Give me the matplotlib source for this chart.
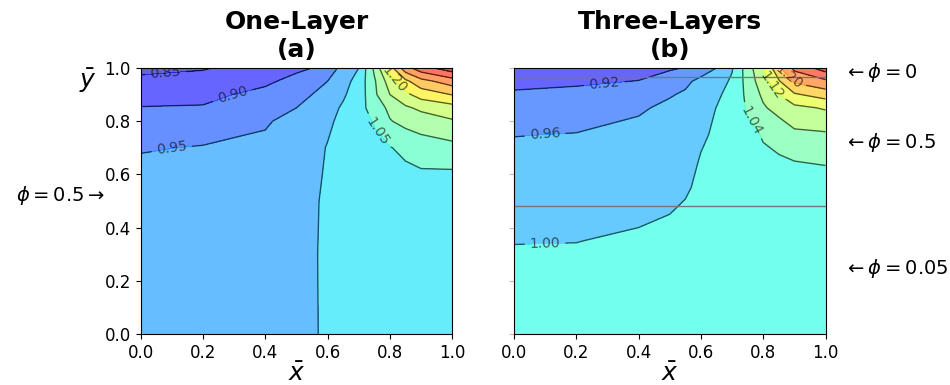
import numpy as np
import matplotlib
matplotlib.use('Agg')
import matplotlib.pyplot as plt

# grid (panel a: one layer)
x_a = [0.0, 0.2, 0.4, 0.5, 0.55, 0.6, 0.65, 0.7, 0.75, 0.8, 0.85, 0.9, 1.0]
y_a = [0.0, 0.3, 0.5, 0.6, 0.7, 0.8, 0.85, 0.9, 0.95, 1.0]
z_a = [
    [0.975, 0.975, 0.980, 0.988, 0.996, 1.006, 1.010, 1.013, 1.015, 1.017, 1.019, 1.021, 1.023],
    [0.973, 0.974, 0.979, 0.987, 0.996, 1.007, 1.012, 1.015, 1.018, 1.020, 1.022, 1.024, 1.026],
    [0.970, 0.971, 0.976, 0.985, 0.995, 1.006, 1.012, 1.016, 1.019, 1.022, 1.025, 1.027, 1.030],
    [0.965, 0.965, 0.970, 0.980, 0.992, 1.004, 1.012, 1.020, 1.028, 1.034, 1.040, 1.043, 1.042],
    [0.946, 0.953, 0.960, 0.975, 0.988, 1.002, 1.020, 1.030, 1.040, 1.048, 1.060, 1.075, 1.085],
    [0.917, 0.921, 0.945, 0.966, 0.980, 0.993, 1.010, 1.035, 1.053, 1.097, 1.115, 1.125, 1.145],
    [0.902, 0.904, 0.925, 0.950, 0.969, 0.986, 1.005, 1.033, 1.070, 1.112, 1.142, 1.160, 1.180],
    [0.881, 0.886, 0.915, 0.932, 0.950, 0.973, 0.995, 1.020, 1.090, 1.150, 1.188, 1.222, 1.252],
    [0.859, 0.864, 0.890, 0.917, 0.933, 0.950, 0.980, 1.020, 1.093, 1.175, 1.238, 1.283, 1.325],
    [0.840, 0.847, 0.867, 0.889, 0.900, 0.929, 0.962, 1.000, 1.110, 1.230, 1.330, 1.380, 1.430],
]
levels_a = [0.80, 0.85, 0.90, 0.95, 1.00, 1.05, 1.10, 1.15, 1.20, 1.25, 1.30, 1.35, 1.40, 1.45]
labels_at_a = [(0.08, 0.985), (0.30, 0.88), (0.10, 0.70), (0.76, 0.76), (0.81, 0.95)]

# panel b: three layers
x_b = [0.0, 0.2, 0.4, 0.5, 0.55, 0.6, 0.65, 0.7, 0.75, 0.8, 0.85, 0.9, 1.0]
y_b = [0.0, 0.2, 0.35, 0.45, 0.55, 0.65, 0.75, 0.85, 0.9, 0.95, 1.0]
z_b = [
    [1.020, 1.020, 1.022, 1.024, 1.025, 1.026, 1.027, 1.028, 1.030, 1.031, 1.032, 1.033, 1.034],
    [1.010, 1.010, 1.012, 1.015, 1.017, 1.019, 1.020, 1.022, 1.025, 1.027, 1.029, 1.031, 1.033],
    [0.999, 0.9995, 1.004, 1.007, 1.010, 1.013, 1.016, 1.018, 1.022, 1.026, 1.029, 1.031, 1.033],
    [0.990, 0.990, 0.996, 1.000, 1.004, 1.009, 1.013, 1.016, 1.021, 1.026, 1.030, 1.033, 1.034],
    [0.980, 0.982, 0.990, 0.993, 0.997, 1.005, 1.010, 1.014, 1.021, 1.028, 1.033, 1.036, 1.035],
    [0.970, 0.972, 0.982, 0.987, 0.990, 1.002, 1.007, 1.013, 1.023, 1.033, 1.036, 1.040, 1.041],
    [0.959, 0.961, 0.971, 0.979, 0.983, 0.996, 1.004, 1.013, 1.030, 1.043, 1.052, 1.072, 1.075],
    [0.940, 0.945, 0.955, 0.968, 0.975, 0.988, 1.0005, 1.012, 1.045, 1.075, 1.095, 1.110, 1.124],
    [0.925, 0.930, 0.938, 0.957, 0.965, 0.982, 0.995, 1.010, 1.050, 1.088, 1.120, 1.155, 1.178],
    [0.910, 0.914, 0.921, 0.940, 0.952, 0.970, 0.985, 1.005, 1.055, 1.105, 1.156, 1.207, 1.232],
    [0.895, 0.900, 0.905, 0.915, 0.922, 0.940, 0.960, 0.997, 1.060, 1.120, 1.190, 1.250, 1.300],
]
levels_b = [0.84, 0.88, 0.92, 0.96, 1.00, 1.04, 1.08, 1.12, 1.16, 1.20, 1.24, 1.28, 1.32]
labels_at_b = [(0.29, 0.94), (0.10, 0.75), (0.10, 0.34), (0.76, 0.80), (0.82, 0.93), (0.88, 0.965)]

# layer interfaces and phi annotations for panel b
interfaces_b = [0.966, 0.48]
phi_labels_b = [r'$\leftarrow\phi=0$', r'$\leftarrow\phi=0.5$', r'$\leftarrow\phi=0.05$']
phi_pos_b = [0.983, 0.72, 0.245]

ticks = [0.0, 0.2, 0.4, 0.6, 0.8, 1.0]

fig = plt.figure(figsize=(9.5, 3.85), dpi=100)
ax_a = fig.add_axes([0.148, 0.1325, 0.328, 0.691])
ax_b = fig.add_axes([0.541, 0.1325, 0.328, 0.691])


def draw_panel(ax, x, y, z, levels, label_pos, title):
    X, Y = np.meshgrid(x, y)
    Z = np.array(z)
    ax.contourf(X, Y, Z, levels=levels, cmap='jet', alpha=0.6)
    cs = ax.contour(X, Y, Z, levels=levels, colors='k', linewidths=1.0, alpha=0.6)
    ax.clabel(cs, fmt='%.2f', fontsize=10, manual=label_pos, inline=True)
    ax.set_xlim(0, 1)
    ax.set_ylim(0, 1)
    ax.set_xticks(ticks)
    ax.set_yticks(ticks)
    ax.tick_params(labelsize=12)
    ax.set_xlabel(r'$\bar{x}$', fontsize=18, labelpad=0)
    ax.set_title(title, fontsize=18, fontweight='bold', pad=8)


draw_panel(ax_a, x_a, y_a, z_a, levels_a, labels_at_a, 'One-Layer\n(a)')
draw_panel(ax_b, x_b, y_b, z_b, levels_b, labels_at_b, 'Three-Layers\n(b)')

ax_a.set_ylabel(r'$\bar{y}$', fontsize=18, rotation=0)
ax_a.yaxis.set_label_coords(-0.17, 0.90)
ax_a.text(-0.115, 0.52, r'$\phi=0.5\rightarrow$', transform=ax_a.get_yaxis_transform(),
          fontsize=14, ha='right', va='center')

ax_b.tick_params(axis='y', labelleft=False, color='#bbbbbb')
for yl in interfaces_b:
    ax_b.axhline(yl, color='#777777', lw=1)
for lab, yp in zip(phi_labels_b, phi_pos_b):
    ax_b.text(1.06, yp, lab, transform=ax_b.get_yaxis_transform(), fontsize=14,
              ha='left', va='center')

plt.savefig('out.png', dpi=100)
